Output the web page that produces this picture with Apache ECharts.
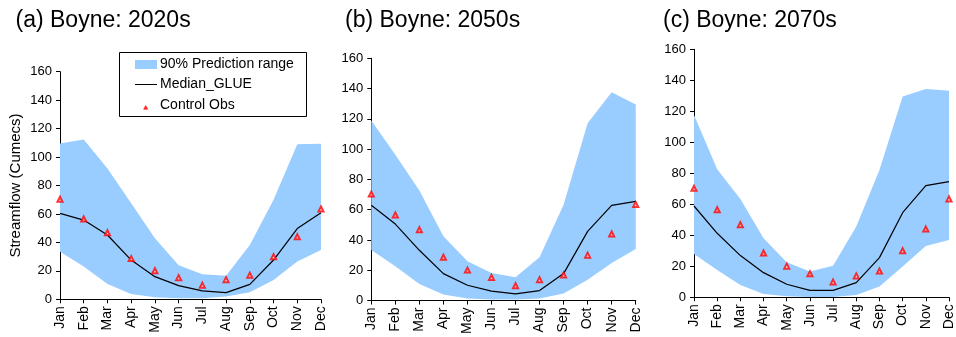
<!DOCTYPE html>
<html><head><meta charset="utf-8">
<script src="https://cdn.jsdelivr.net/npm/echarts@6/dist/echarts.min.js"></script>
<style>html,body{margin:0;padding:0;background:#fff}#c{width:956px;height:337px}</style>
</head><body><div id="c"></div>
<script>
var months = ['Jan','Feb','Mar','Apr','May','Jun','Jul','Aug','Sep','Oct','Nov','Dec'];
var yTicks = [0,20,40,60,80,100,120,140,160];
var titles = ['(a) Boyne: 2020s','(b) Boyne: 2050s','(c) Boyne: 2070s'];
var controlObs = [70.3,56.5,46.8,28.6,20.1,15.2,9.8,13.8,16.9,30.0,44.0,63.5];

var upper2020s = [109.6,112.4,92.0,67.5,42.9,24.0,17.6,16.6,38.2,70.0,109.0,109.4];
var lower2020s = [33.5,23.0,10.8,3.7,1.4,0.7,0.7,1.9,4.9,13.6,26.5,34.7];
var median2020s = [60.4,55.7,45.2,27.6,15.9,9.6,5.9,4.7,10.5,27.6,49.7,60.9];

var upper2050s = [118.9,96.3,72.7,42.4,25.9,18.2,15.4,28.6,63.3,117.1,137.6,129.5];
var lower2050s = [33.4,22.6,11.0,4.0,1.3,0.7,0.7,1.3,4.6,13.8,24.8,34.1];
var median2050s = [62.9,50.5,33.2,17.8,10.1,6.2,4.4,6.6,17.8,45.7,62.9,65.5];

var upper2070s = [117.6,82.6,63.4,38.1,22.6,16.6,20.4,45.6,82.2,129.5,134.4,133.3];
var lower2070s = [28.0,17.6,8.0,2.2,0.6,0.2,0.2,1.5,6.9,19.8,33.1,37.0];
var median2070s = [58.9,41.3,26.9,15.9,8.4,4.5,4.5,9.5,25.6,54.6,72.0,74.6];

var panels = [
  {upper: upper2020s, lower: lower2020s, median: median2020s},
  {upper: upper2050s, lower: lower2050s, median: median2050s},
  {upper: upper2070s, lower: lower2070s, median: median2070s}
];

var FONT = '"Liberation Sans", Arial, Helvetica, sans-serif';
var BAND = '#99ccff';
var grids = [
  {left: 60, top: 71.7, width: 261, height: 227.6},
  {left: 371.3, top: 58.3, width: 264.4, height: 242.7},
  {left: 694, top: 49.3, width: 257.7, height: 248}
];
var titlePos = [15.5, 345, 663];

var option = {
  animation: false,
  backgroundColor: '#fff',
  textStyle: {fontFamily: FONT},
  title: titles.map(function (t, i) {
    return {text: t, left: titlePos[i], top: 9, padding: 0,
      textStyle: {fontFamily: FONT, fontSize: 23, fontWeight: 'normal', color: '#000'}};
  }),
  grid: grids,
  xAxis: grids.map(function (g, i) {
    return {type: 'category', gridIndex: i, data: months, boundaryGap: false,
      axisLine: {lineStyle: {color: '#000', width: 1}},
      axisTick: {show: true, alignWithLabel: true, length: 4, lineStyle: {color: '#000'}},
      axisLabel: {rotate: 90, fontSize: 14, color: '#000', fontFamily: FONT, margin: 7, interval: 0},
      splitLine: {show: false}};
  }),
  yAxis: grids.map(function (g, i) {
    return {type: 'value', gridIndex: i, min: yTicks[0], max: yTicks[yTicks.length - 1], interval: 20,
      name: i === 0 ? 'Streamflow (Cumecs)' : '', nameLocation: 'middle', nameGap: 37,
      nameTextStyle: {fontSize: 15, color: '#000', fontFamily: FONT},
      axisLine: {show: true, lineStyle: {color: '#000', width: 1}},
      axisTick: {show: true, length: 4, lineStyle: {color: '#000'}},
      axisLabel: {fontSize: 13, color: '#000', fontFamily: FONT, margin: 8},
      splitLine: {show: false}};
  }),
  series: [],
  graphic: []
};

panels.forEach(function (p, i) {
  var diff = p.upper.map(function (u, k) { return +(u - p.lower[k]).toFixed(2); });
  option.series.push(
    {name: 'lower' + i, type: 'line', xAxisIndex: i, yAxisIndex: i, data: p.lower, stack: 'band' + i,
      symbol: 'none', lineStyle: {width: 0, opacity: 0}, silent: true, z: 1},
    {name: '90% Prediction range', type: 'line', xAxisIndex: i, yAxisIndex: i, data: diff, stack: 'band' + i,
      symbol: 'none', lineStyle: {width: 0, opacity: 0}, areaStyle: {color: BAND, opacity: 1}, silent: true, z: 1},
    {name: 'Median_GLUE', type: 'line', xAxisIndex: i, yAxisIndex: i, data: p.median,
      symbol: 'none', lineStyle: {color: '#000', width: 1.2}, z: 3},
    {name: 'Control Obs', type: 'scatter', xAxisIndex: i, yAxisIndex: i, data: controlObs,
      symbol: 'emptyTriangle', symbolSize: 5, itemStyle: {color: '#ff0000', borderColor: '#ff0000', borderWidth: 1.1}, z: 4}
  );
});

// legend box (panel a)
option.graphic = [
  {type: 'rect', shape: {x: 119.5, y: 52.5, width: 187, height: 64}, style: {fill: '#fff', stroke: '#000', lineWidth: 1}, z: 10},
  {type: 'rect', shape: {x: 135, y: 60, width: 22, height: 9}, style: {fill: BAND}, z: 11},
  {type: 'text', x: 160, y: 64.5, style: {text: '90% Prediction range', fontSize: 14, fontFamily: FONT, fill: '#000', verticalAlign: 'middle'}, z: 11},
  {type: 'line', shape: {x1: 135, y1: 84.5, x2: 157, y2: 84.5}, style: {stroke: '#000', lineWidth: 1}, z: 11},
  {type: 'text', x: 160, y: 84.5, style: {text: 'Median_GLUE', fontSize: 14, fontFamily: FONT, fill: '#000', verticalAlign: 'middle'}, z: 11},
  {type: 'polygon', shape: {points: [[145.7, 105.6], [143.7, 109.2], [147.7, 109.2]]}, style: {fill: '#ff3333', stroke: '#ff0000', lineWidth: 0.6}, z: 11},
  {type: 'text', x: 160, y: 105.5, style: {text: 'Control Obs', fontSize: 14, fontFamily: FONT, fill: '#000', verticalAlign: 'middle'}, z: 11}
];

var chart = echarts.init(document.getElementById('c'), null, {renderer: 'canvas'});
chart.setOption(option);
</script></body></html>
